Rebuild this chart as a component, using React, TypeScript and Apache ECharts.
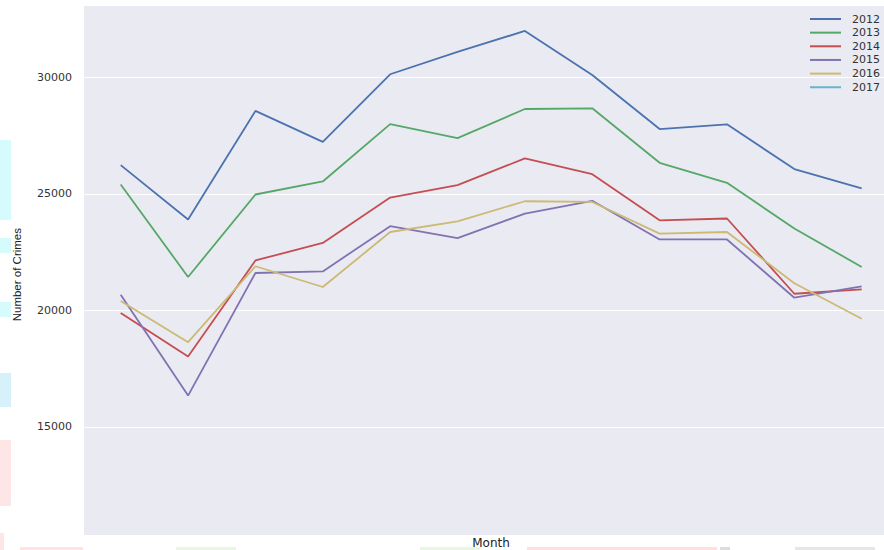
import React, { useEffect, useRef } from "react";
import * as echarts from "echarts";

const months = [1, 2, 3, 4, 5, 6, 7, 8, 9, 10, 11, 12];
const years = ["2012", "2013", "2014", "2015", "2016", "2017"];
const crimes2012 = [26230, 23900, 28560, 27230, 30130, 31090, 31990, 30100, 27780, 27980, 26060, 25230];
const crimes2013 = [25400, 21430, 24970, 25530, 27990, 27390, 28640, 28670, 26330, 25470, 23510, 21860];
const crimes2014 = [19880, 18020, 22140, 22890, 24840, 25370, 26520, 25840, 23860, 23940, 20710, 20900];
const crimes2015 = [20670, 16340, 21600, 21670, 23610, 23100, 24150, 24700, 23040, 23040, 20540, 21030];
const crimes2016 = [20400, 18630, 21890, 21000, 23360, 23820, 24680, 24650, 23290, 23360, 21160, 19640];
const crimes2017: number[] = [];
const seriesValues = [crimes2012, crimes2013, crimes2014, crimes2015, crimes2016, crimes2017];
const colors = ["#4C72B0", "#55A868", "#C44E52", "#8172B2", "#CCB974", "#64B5CD"];

export default function App() {
  const ref = useRef<HTMLDivElement>(null);
  useEffect(() => {
    if (!ref.current) return;
    const chart = echarts.init(ref.current, undefined, { renderer: "svg" });
    const deco = [
      { x: 0, y: 140, w: 11, h: 80, c: "#D6FBFD" },
      { x: 0, y: 238, w: 11, h: 15, c: "#D6FBFD" },
      { x: 0, y: 302, w: 11, h: 15, c: "#D6FBFD" },
      { x: 0, y: 373, w: 11, h: 34, c: "#D6F1FA" },
      { x: 0, y: 440, w: 11, h: 66, c: "#FFE6E6" },
      { x: 0, y: 533, w: 4, h: 17, c: "#FFE6E6" },
      { x: 20, y: 547, w: 63, h: 3, c: "#FFE3E3" },
      { x: 176, y: 547, w: 60, h: 3, c: "#EAF5E2" },
      { x: 420, y: 547, w: 60, h: 3, c: "#EAF5E2" },
      { x: 527, y: 547, w: 190, h: 3, c: "#FFE0DC" },
      { x: 720, y: 547, w: 10, h: 3, c: "#DDDDDD" },
      { x: 795, y: 547, w: 80, h: 3, c: "#E6E6E6" },
    ];
    chart.setOption({
      animation: false,
      color: colors,
      graphic: [
        {
          type: "rect",
          z: -1,
          silent: true,
          shape: { x: 84, y: 6, width: 800, height: 529 },
          style: { fill: "#EAEAF2" },
        },
        ...deco.map((d) => ({
          type: "rect",
          z: -1,
          silent: true,
          shape: { x: d.x, y: d.y, width: d.w, height: d.h },
          style: { fill: d.c },
        })),
      ],
      grid: { left: 84, right: 0, top: 6, bottom: 6.7, containLabel: false, outerBoundsMode: "none" },
      legend: {
        orient: "vertical",
        left: 810,
        top: 13,
        padding: 0,
        itemGap: 1.65,
        itemWidth: 31,
        itemHeight: 2,
        icon: "rect",
        data: years,
        textStyle: {
          fontFamily: "DejaVu Sans",
          fontSize: 11,
          lineHeight: 12,
          color: "#333",
          padding: [0, 0, 0, 6],
        },
      },
      xAxis: {
        type: "value",
        min: 0.455,
        max: 12.331,
        name: "Month",
        nameLocation: "middle",
        nameGap: 0,
        nameTextStyle: {
          fontFamily: "DejaVu Sans",
          fontSize: 12,
          color: "#222",
          verticalAlign: "middle",
          padding: [0, 0, 0, 14],
        },
        axisLine: { show: false },
        axisTick: { show: false },
        axisLabel: { show: false },
        splitLine: { show: false },
      },
      yAxis: {
        type: "value",
        min: 10000,
        max: 33060,
        interval: 5000,
        name: "Number of Crimes",
        nameLocation: "middle",
        nameGap: 67,
        nameTextStyle: { fontFamily: "Liberation Sans", fontSize: 11.5, color: "#222", verticalAlign: "middle" },
        axisLine: { show: false },
        axisTick: { show: false },
        axisLabel: {
          margin: 12,
          fontFamily: "DejaVu Sans",
          fontSize: 11,
          color: "#333",
          showMinLabel: false,
          showMaxLabel: false,
          formatter: (v: number) => String(v),
        },
        splitLine: {
          show: true,
          showMinLine: false,
          showMaxLine: false,
          lineStyle: { color: "#FFFFFF", width: 1.2 },
        },
      },
      series: years.map((y, i) => ({
        name: y,
        type: "line",
        symbol: "none",
        lineStyle: { width: 1.8, color: colors[i] },
        itemStyle: { color: colors[i] },
        data: seriesValues[i].map((v, j) => [months[j], v]),
      })),
    });
    return () => chart.dispose();
  }, []);
  return (
    <div
      ref={ref}
      style={{ position: "absolute", left: 0, top: 0, width: 884, height: 550 }}
    />
  );
}
